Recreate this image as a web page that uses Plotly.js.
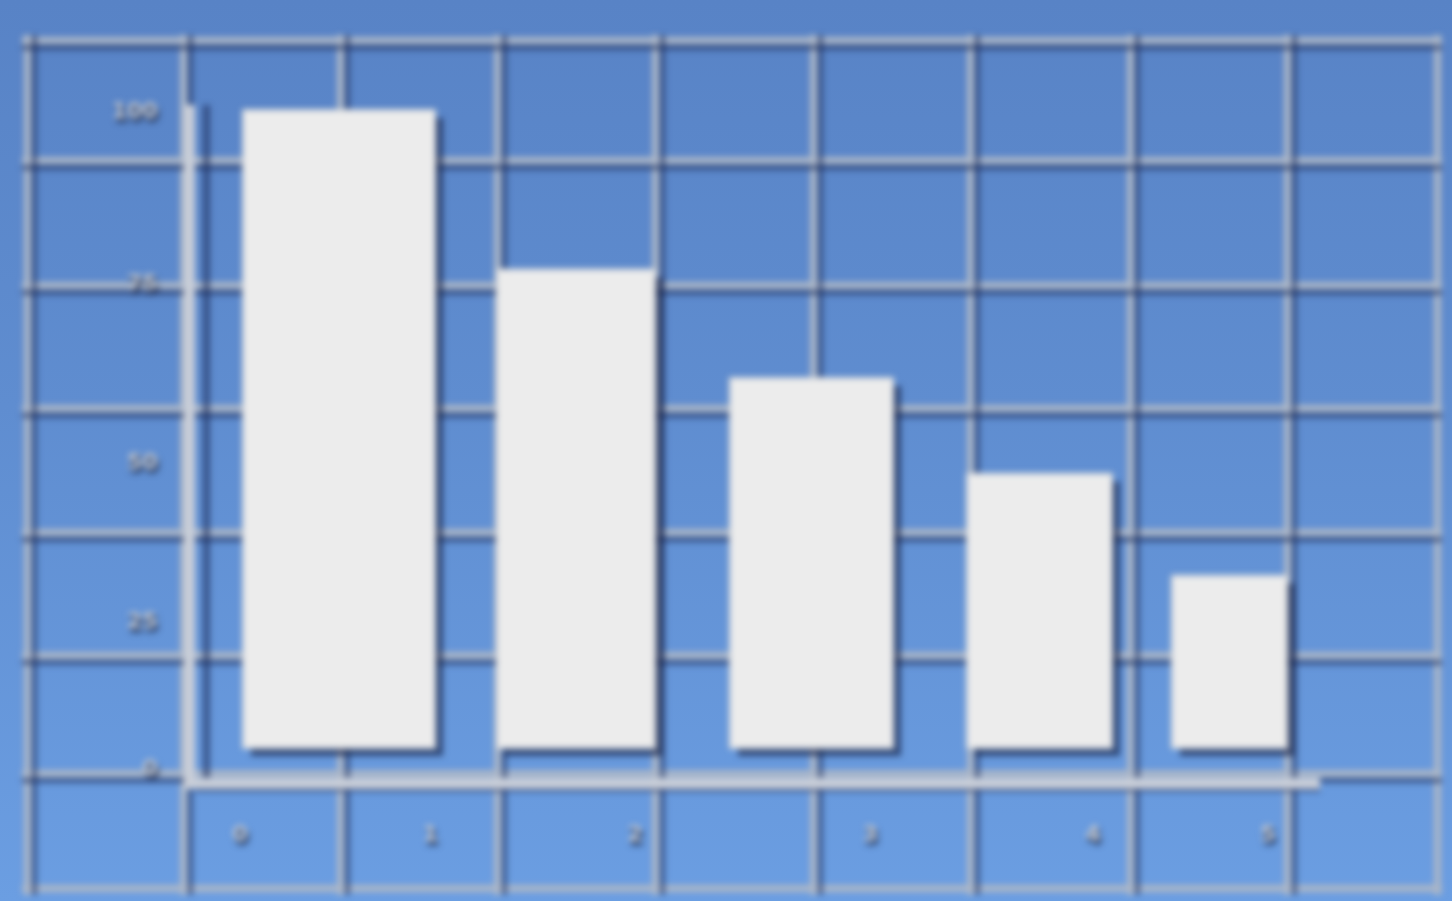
<!DOCTYPE html>
<html>
<head>
<meta charset="utf-8">
<script src="https://cdn.plot.ly/plotly-3.0.1.min.js"></script>
<style>
  html, body { margin: 0; padding: 0; width: 1452px; height: 901px; overflow: hidden;
    background: linear-gradient(to bottom, #5883c6 0%, #5f8dd0 45%, #6b9ee2 100%); }
  #chart { width: 1452px; height: 901px; filter: blur(3px); }
</style>
</head>
<body>
<div id="chart"></div>
<script>
// ---- data ----
const categories = ["A", "B", "C", "D", "E"];
const values = [100, 75, 58, 43, 27];
const yTickLabels = ["100", "75", "50", "25", "0"];
const xTickLabels = ["0", "1", "2", "3", "4", "5"];

// ---- layout helpers (positions / styles) ----
const W = 1452, H = 901;
const gridX = [27, 183, 340, 497, 655, 813, 970, 1130, 1287, 1437];
const gridY = [40, 160, 285, 408, 532, 655, 773, 888];
const yTickVals = [100, 73, 45, 20, -3];
const xTickVals = [-0.445, 0.41, 1.33, 2.385, 3.385, 4.17];
const barWidths = [0.862, 0.709, 0.732, 0.651, 0.516];
const barOffsets = [-0.431, -0.291, -0.245, -0.181, -0.261];
const idx = categories.map((_, i) => i);

const pxPerX = 222.75, pxPerY = 6.38, shOff = 8;
const xr = [-0.6465, 4.404];
const yr = [-4.70, 100.78];
const gx = [22, 1442], gy = [35, 895];

const gridLight = '#abb6c7';
const gridDark = 'rgba(28,44,88,0.6)';
const axisLight = '#c9ced8';
const tickFont = { family: 'DejaVu Sans', size: 22, color: '#c0c6d0', weight: 700,
                   shadow: '2px 4px 3px rgba(20,30,60,0.9)' };

const traces = [
  { type: 'scatter', x: [], y: [], xaxis: 'x', yaxis: 'y', hoverinfo: 'skip' },
  { type: 'scatter', x: [], y: [], xaxis: 'x2', yaxis: 'y2', hoverinfo: 'skip' },
  { type: 'bar', x: idx, y: values, width: barWidths, offset: barOffsets, xaxis: 'x3', yaxis: 'y3',
    marker: { color: 'rgba(22,34,70,0.65)', line: { width: 0 } }, hoverinfo: 'skip' },
  { type: 'bar', x: idx, y: values, width: barWidths, offset: barOffsets, xaxis: 'x4', yaxis: 'y4',
    text: categories, textposition: 'none',
    marker: { color: '#ececec', line: { color: '#cfd2d6', width: 2 } } }
];

const noTicks = { showticklabels: false, ticks: '', zeroline: false, fixedrange: true };

const layout = {
  width: W, height: H,
  margin: { l: 0, r: 0, t: 0, b: 0, pad: 0 },
  paper_bgcolor: 'rgba(0,0,0,0)', plot_bgcolor: 'rgba(0,0,0,0)',
  showlegend: false,
  xaxis: Object.assign({ domain: [gx[0] / W, gx[1] / W], range: gx, tickmode: 'array', tickvals: gridX,
    showgrid: true, gridcolor: gridLight, gridwidth: 7, anchor: 'y' }, noTicks),
  yaxis: Object.assign({ domain: [(H - gy[1]) / H, (H - gy[0]) / H], range: [gy[1], gy[0]],
    tickmode: 'array', tickvals: gridY,
    showgrid: true, gridcolor: gridLight, gridwidth: 7, anchor: 'x' }, noTicks),
  xaxis2: Object.assign({ overlaying: 'x', range: [gx[0] - 7, gx[1] - 7], tickmode: 'array', tickvals: gridX,
    showgrid: true, gridcolor: gridDark, gridwidth: 5, anchor: 'y2' }, noTicks),
  yaxis2: Object.assign({ overlaying: 'y', range: [gy[1] - 7, gy[0] - 7], tickmode: 'array', tickvals: gridY,
    showgrid: true, gridcolor: gridDark, gridwidth: 5, anchor: 'x2' }, noTicks),
  xaxis3: Object.assign({ domain: [195 / W, 1320 / W],
    range: [xr[0] - shOff / pxPerX, xr[1] - shOff / pxPerX],
    showgrid: false, showline: true, linecolor: gridDark, linewidth: 7,
    anchor: 'free', position: (H - 788) / H }, noTicks),
  yaxis3: Object.assign({ domain: [(H - 778) / H, (H - 105) / H],
    range: [yr[0] + shOff / pxPerY, yr[1] + shOff / pxPerY],
    showgrid: false, showline: true, linecolor: gridDark, linewidth: 7,
    anchor: 'free', position: 206 / W }, noTicks),
  xaxis4: { overlaying: 'x3', anchor: 'y4', range: xr, showgrid: false, zeroline: false,
    showline: true, linecolor: axisLight, linewidth: 11, ticks: '',
    tickmode: 'array', tickvals: xTickVals, ticktext: xTickLabels,
    tickfont: tickFont, ticklabelstandoff: 26, fixedrange: true },
  yaxis4: { overlaying: 'y3', anchor: 'x4', range: yr, showgrid: false, zeroline: false,
    showline: true, linecolor: axisLight, linewidth: 11, ticks: '',
    tickmode: 'array', tickvals: yTickVals, ticktext: yTickLabels,
    tickfont: tickFont, ticklabelstandoff: 22, fixedrange: true }
};

Plotly.newPlot('chart', traces, layout, { displayModeBar: false, staticPlot: true });
</script>
</body>
</html>
